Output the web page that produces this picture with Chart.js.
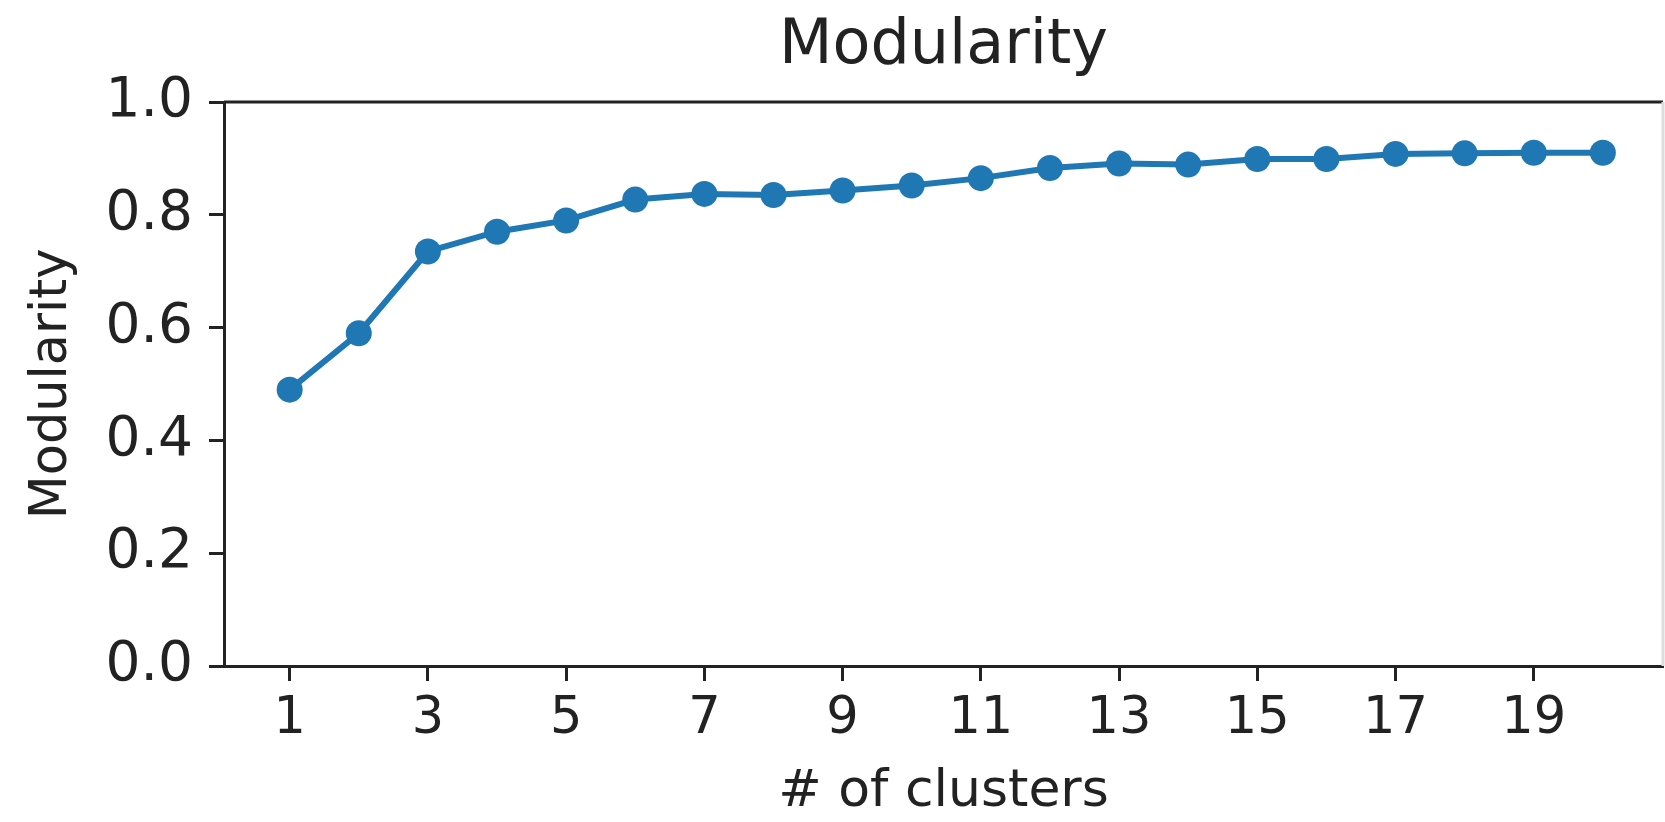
<!DOCTYPE html>
<html>
<head>
    <title>Modularity</title>
    <script src="https://cdn.jsdelivr.net/npm/chart.js"></script>
    <style>
        html, body { margin: 0; padding: 0; background: #fff; overflow: hidden; }
        #wrap { width: 1665px; height: 822px; }
    </style>
</head>
<body>
    <div id="wrap">
        <canvas id="myChart"></canvas>
    </div>
    <script>
        // data
        const clusters = [1, 2, 3, 4, 5, 6, 7, 8, 9, 10, 11, 12, 13, 14, 15, 16, 17, 18, 19, 20];
        const modularity = [0.49, 0.59, 0.735, 0.77, 0.79, 0.827, 0.837, 0.835, 0.843, 0.852,
                            0.865, 0.883, 0.891, 0.889, 0.899, 0.899, 0.908, 0.909, 0.91, 0.91];
        const xTicks = [1, 3, 5, 7, 9, 11, 13, 15, 17, 19];
        const yTicks = [0, 0.2, 0.4, 0.6, 0.8, 1.0];

        const blue = '#1f77b4';
        const ink = '#222222';
        const font = 'DejaVu Sans';

        // top spine, plus a faint right spine (the figure is cut off there)
        const frame = {
            id: 'frame',
            afterDraw(chart) {
                const a = chart.chartArea;
                const c = chart.ctx;
                c.save();
                c.lineWidth = 3;
                c.strokeStyle = ink;
                c.beginPath();
                c.moveTo(a.left, a.top);
                c.lineTo(a.right, a.top);
                c.stroke();
                c.strokeStyle = '#dddddd';
                c.beginPath();
                c.moveTo(a.right, a.top);
                c.lineTo(a.right, a.bottom);
                c.stroke();
                c.restore();
            }
        };

        const noSidePad = s => { s.paddingLeft = 0; s.paddingRight = 0; };

        const ctx = document.getElementById('myChart').getContext('2d');
        const myChart = new Chart(ctx, {
            type: 'line',
            data: {
                datasets: [
                    {
                        label: 'Modularity',
                        data: clusters.map((c, i) => ({ x: c, y: modularity[i] })),
                        borderColor: blue,
                        backgroundColor: blue,
                        borderWidth: 6,
                        pointRadius: 13,
                        pointBorderWidth: 0,
                        pointBackgroundColor: blue,
                        fill: false,
                        tension: 0,
                    },
                ],
            },
            options: {
                responsive: true,
                maintainAspectRatio: false,
                animation: false,
                layout: { padding: { left: 0, right: 2, top: 0, bottom: 0 }, autoPadding: false },
                plugins: {
                    legend: { display: false },
                    tooltip: { enabled: false },
                    title: { display: false },
                },
                scales: {
                    // top axis only carries the title, centred over the plot
                    top: {
                        type: 'linear',
                        position: 'top',
                        min: 0.05,
                        max: 20.87,
                        afterFit: s => { s.height = 102; noSidePad(s); },
                        grid: { display: false },
                        border: { display: false },
                        ticks: { display: false },
                        title: {
                            display: true,
                            text: 'Modularity',
                            color: ink,
                            font: { family: font, size: 62 },
                            padding: { top: 10, bottom: 0 },
                        },
                    },
                    x: {
                        type: 'linear',
                        min: 0.05,
                        max: 20.87,
                        afterBuildTicks: s => { s.ticks = xTicks.map(v => ({ value: v })); },
                        afterFit: s => { s.height = 156; noSidePad(s); },
                        grid: {
                            drawOnChartArea: false,
                            drawTicks: true,
                            tickLength: 15,
                            tickWidth: 3,
                            tickColor: ink,
                        },
                        border: { display: true, color: ink, width: 3 },
                        ticks: {
                            autoSkip: false,
                            maxRotation: 0,
                            padding: 8,
                            color: ink,
                            font: { family: font, size: 51 },
                        },
                        title: {
                            display: true,
                            text: '# of clusters',
                            color: ink,
                            font: { family: font, size: 52 },
                            padding: { top: 0, bottom: -2 },
                        },
                    },
                    y: {
                        min: 0,
                        max: 1,
                        afterBuildTicks: s => { s.ticks = yTicks.map(v => ({ value: v })); },
                        afterFit: s => { s.width = 224; },
                        grid: {
                            drawOnChartArea: false,
                            drawTicks: true,
                            tickLength: 15,
                            tickWidth: 3,
                            tickColor: ink,
                        },
                        border: { display: true, color: ink, width: 3 },
                        ticks: {
                            padding: 16,
                            color: ink,
                            font: { family: font, size: 55 },
                            callback: v => v.toFixed(1),
                        },
                        title: {
                            display: true,
                            text: 'Modularity',
                            color: ink,
                            font: { family: font, size: 51 },
                            padding: { top: 22, bottom: 0 },
                        },
                    },
                },
            },
            plugins: [frame],
        });
    </script>
</body>
</html>
